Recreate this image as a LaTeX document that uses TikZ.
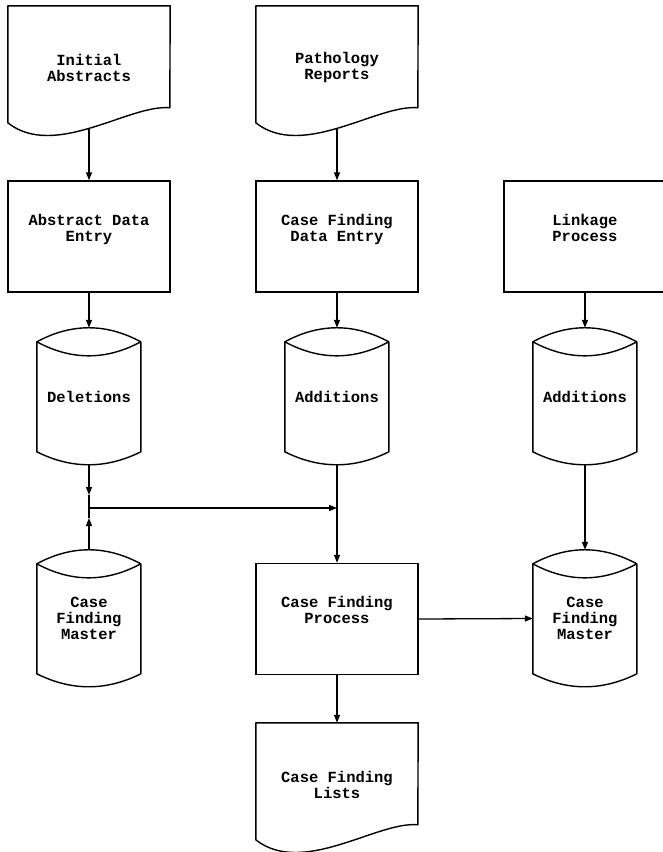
\documentclass[tikz,border=0pt]{standalone}
\usepackage{fontspec}
\setmonofont{Liberation Mono}
\usetikzlibrary{arrows.meta,calc}

% document symbol: flat top, wavy bottom, drawn round an invisible node
\newcommand\drawdoc[1]{%
  \draw[outline] (#1.north west) -- (#1.north east)
    -- ($(#1.north west)+(162,102)$)
    .. controls ($(#1.north west)+(122,98)$) and ($(#1.north west)+(47,154)$)
    .. ($(#1.north west)+(0,117)$) -- cycle;}

% disk symbol: lens-shaped top, curved bottom
\newcommand\drawdisk[1]{%
  \draw[outline] ($(#1.north west)+(0,14)$)
    .. controls ($(#1.north west)+(34.7,-4.7)$) and ($(#1.north west)+(69.3,-4.7)$)
    .. ($(#1.north west)+(104,14)$)
    .. controls ($(#1.north west)+(69.3,32.7)$) and ($(#1.north west)+(34.7,32.7)$)
    .. ($(#1.north west)+(0,14)$)
    -- ($(#1.north west)+(0,124)$)
    .. controls ($(#1.north west)+(34.7,141.3)$) and ($(#1.north west)+(69.3,141.3)$)
    .. ($(#1.north west)+(104,124)$)
    -- ($(#1.north west)+(104,14)$);}

\begin{document}
\begin{tikzpicture}[x=1pt,y=-1pt,
  every node/.style={font=\ttfamily\bfseries\fontsize{15.5}{16}\selectfont,
                     align=center, inner sep=0pt},
  outline/.style={line width=1.4pt, line join=round},
  flow/.style={line width=1.3pt, -{Triangle[length=8pt,width=6pt]}},
  link/.style={line width=1.3pt},
  docnode/.style={minimum width=162pt, minimum height=123pt},
  boxnode/.style={draw, line width=1.4pt, minimum width=162pt, minimum height=111pt,
                  text depth=18pt},
  disknode/.style={minimum width=104pt, minimum height=137pt},
]
\useasboundingbox[fill=white] (0,0) rectangle (662,852);

% inputs
\node[docnode] (ia) at (89,67.5) {Initial\\Abstracts};
\node[docnode] (pr) at (337,67.5) {Pathology\\Reports};
\drawdoc{ia}
\drawdoc{pr}

% processes
\node[boxnode] (ab)   at (89,236.5)  {Abstract Data\\Entry};
\node[boxnode] (cfde) at (337,236.5) {Case Finding\\Data Entry};
\node[boxnode] (lp)   at (585,236.5) {Linkage\\Process};

% transaction files
\node[disknode] (del)  at (89,396.5)  {Deletions};
\node[disknode] (add1) at (337,396.5) {Additions};
\node[disknode] (add2) at (585,396.5) {Additions};
\drawdisk{del}
\drawdisk{add1}
\drawdisk{add2}

% master files and the matching run
\node[disknode] (cfm1) at (89,618.5)  {Case\\Finding\\Master};
\node[disknode] (cfm2) at (585,618.5) {Case\\Finding\\Master};
\drawdisk{cfm1}
\drawdisk{cfm2}
\node[boxnode] (cfp) at (337,619) {Case Finding\\Process};

% output
\node[docnode] (cfl) at (337,784.5) {Case Finding\\Lists};
\drawdoc{cfl}

% junction points where the deletions and the old master meet
\coordinate (jd) at (89,495);
\coordinate (jn) at (89,508);
\coordinate (ju) at (89,518);
\coordinate (jk) at (337,508);

% connectors
\draw[flow] (ia.south) -- (ab.north);
\draw[flow] (pr.south) -- (cfde.north);
\draw[flow] (ab.south) -- (del.north);
\draw[flow] (cfde.south) -- (add1.north);
\draw[flow] (lp.south) -- (add2.north);
\draw[flow] (del.south) -- (jd);
\draw[link] (jd) -- (jn);
\draw[flow] (cfm1.north) -- (ju);
\draw[link] (ju) -- (jn);
\draw[flow] (jn) -- (jk);
\draw[flow] (add1.south) -- (cfp.north);
\draw[flow] (add2.south) -- (cfm2.north);
\draw[flow] (cfp.east) -- (cfm2.west);
\draw[flow] (cfp.south) -- (cfl.north);
\end{tikzpicture}
\end{document}
